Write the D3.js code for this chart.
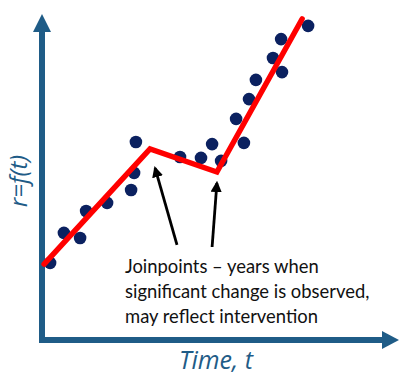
<!DOCTYPE html>
<html>
<head>
<meta charset="utf-8">
<script src="https://cdn.jsdelivr.net/npm/d3@7"></script>
<style>
  body { margin: 0; background: #fff; }
  .note { font-family: Lato, sans-serif; font-size: 18.4px; fill: #111; }
  .axis-label { font-family: 'Open Sans', sans-serif; font-style: italic; font-size: 25px; fill: #1f5c87; }
</style>
</head>
<body>
<svg width="414" height="376"></svg>
<script>
var svg = d3.select('svg');

// observed points (time, rate)
var timeValues = [2.7, 7.3, 12.7, 14.7, 21.7, 29.7, 30.7, 31.3, 46, 53, 56.7, 59.7, 64.7, 67.3, 69, 71.3, 77, 80, 79.7, 88.7];
var rateValues = [25.7, 35.7, 34, 43, 45.7, 50, 55.7, 66, 61, 60.7, 65.3, 59.7, 73.7, 65.7, 80.3, 86.7, 94, 89.3, 100.3, 104.7];

// fitted joinpoint segments
var fitTimes = [0.7, 36, 58.3, 86.7];
var fitRates = [25.3, 63.7, 56, 107];

// annotation arrows: [tail, tip]
var arrowTails = [[45, 31.7], [56.7, 31]];
var arrowTips = [[37.7, 57.3], [58.3, 52.3]];

var noteLines = ['Joinpoints – years when', 'significant change is observed,', 'may reflect intervention'];

var xScale = d3.scaleLinear().domain([0, 100]).range([42, 342]);
var yScale = d3.scaleLinear().domain([0, 110]).range([340, 10]);

var axisColor = '#1f5c87';

// axes with arrow heads
var x0 = xScale(0), y0 = yScale(0);
svg.append('line')
    .attr('x1', x0).attr('y1', y0 + 3)
    .attr('x2', x0).attr('y2', 30)
    .style('stroke', axisColor).style('stroke-width', 6);
svg.append('path')
    .attr('d', 'M' + [x0 - 9, 32] + 'L' + [x0, 14] + 'L' + [x0 + 9, 32] + 'Z')
    .style('fill', axisColor);

svg.append('line')
    .attr('x1', x0 - 3).attr('y1', y0)
    .attr('x2', 384).attr('y2', y0)
    .style('stroke', axisColor).style('stroke-width', 6);
svg.append('path')
    .attr('d', 'M' + [382, y0 - 9] + 'L' + [399, y0] + 'L' + [382, y0 + 9] + 'Z')
    .style('fill', axisColor);

// points
svg.selectAll('.dot')
    .data(timeValues)
    .enter()
    .append('circle')
    .attr('class', 'dot')
    .attr('cx', function(d) { return xScale(d); })
    .attr('cy', function(d, i) { return yScale(rateValues[i]); })
    .attr('r', 6.3)
    .style('fill', '#0b2160');

// fitted line
var line = d3.line()
    .x(function(d) { return xScale(d); })
    .y(function(d, i) { return yScale(fitRates[i]); });

svg.append('path')
    .attr('d', line(fitTimes))
    .style('fill', 'none')
    .style('stroke', '#ff0000')
    .style('stroke-width', 5.5)
    .style('stroke-linejoin', 'miter')
    .style('stroke-linecap', 'round');

// arrows
var defs = svg.append('defs');
defs.append('marker')
    .attr('id', 'head')
    .attr('viewBox', '0 0 10 10')
    .attr('refX', 8).attr('refY', 5)
    .attr('markerWidth', 4).attr('markerHeight', 4)
    .attr('markerUnits', 'strokeWidth')
    .attr('orient', 'auto')
    .append('path')
    .attr('d', 'M0,0L10,5L0,10Z')
    .style('fill', '#000');

svg.selectAll('.arrow')
    .data(arrowTails)
    .enter()
    .append('line')
    .attr('class', 'arrow')
    .attr('x1', function(d) { return xScale(d[0]); })
    .attr('y1', function(d) { return yScale(d[1]); })
    .attr('x2', function(d, i) { return xScale(arrowTips[i][0]); })
    .attr('y2', function(d, i) { return yScale(arrowTips[i][1]); })
    .style('stroke', '#000')
    .style('stroke-width', 2.8)
    .attr('marker-end', 'url(#head)');

// note
svg.append('text')
    .attr('class', 'note')
    .attr('x', 125)
    .attr('y', 273)
    .selectAll('tspan')
    .data(noteLines)
    .enter()
    .append('tspan')
    .attr('x', 125)
    .attr('dy', function(d, i) { return i === 0 ? 0 : 25; })
    .text(function(d) { return d; });

// axis labels
svg.append('text')
    .attr('class', 'axis-label')
    .attr('x', 216)
    .attr('y', 369)
    .attr('text-anchor', 'middle')
    .text('Time, t');

svg.append('text')
    .attr('class', 'axis-label')
    .attr('transform', 'translate(27,181) rotate(-90)')
    .attr('text-anchor', 'middle')
    .style('font-size', '24px')
    .text('r=f(t)');
</script>
</body>
</html>
